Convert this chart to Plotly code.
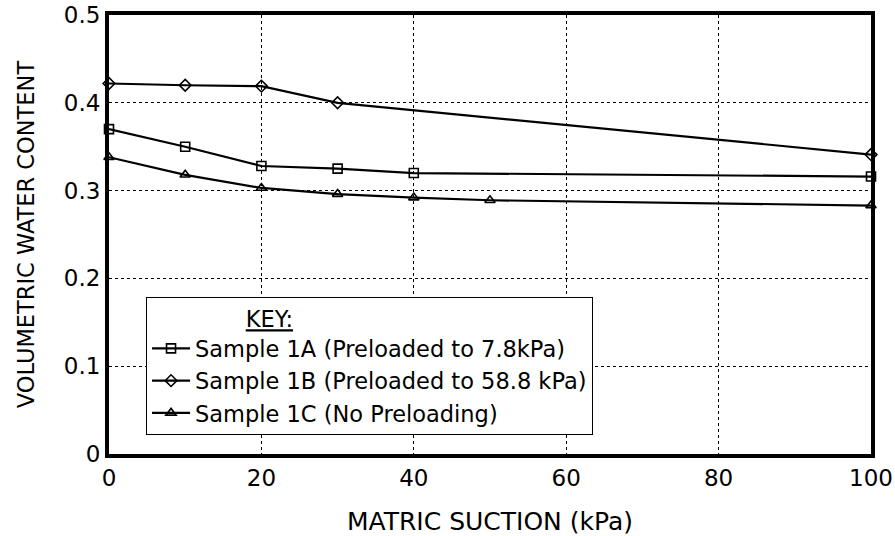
import plotly.graph_objects as go

# Data
x_1a = [0, 10, 20, 30, 40, 100]
y_1a = [0.370, 0.350, 0.328, 0.325, 0.320, 0.316]

x_1b = [0, 10, 20, 30, 100]
y_1b = [0.422, 0.420, 0.419, 0.400, 0.341]

x_1c = [0, 10, 20, 30, 40, 50, 100]
y_1c = [0.338, 0.318, 0.303, 0.296, 0.292, 0.289, 0.283]

names = ["Sample 1A (Preloaded to 7.8kPa)",
         "Sample 1B (Preloaded to 58.8 kPa)",
         "Sample 1C (No Preloading)"]

x_ticks = [0, 20, 40, 60, 80, 100]
y_ticks = [0, 0.1, 0.2, 0.3, 0.4, 0.5]
y_ticklabels = ["0", "0.1", "0.2", "0.3", "0.4", "0.5"]

FONT = "DejaVu Sans, sans-serif"

fig = go.Figure()
series = [(x_1a, y_1a, names[0], "square-open"),
          (x_1b, y_1b, names[1], "diamond-open"),
          (x_1c, y_1c, names[2], "triangle-up-open")]
for xs, ys, nm, sym in series:
    fig.add_trace(go.Scatter(
        x=xs, y=ys, name=nm, mode="lines+markers",
        line=dict(color="black", width=2.2),
        marker=dict(symbol=sym, size=9, color="black", line=dict(width=1.6, color="black")),
        cliponaxis=False,
    ))

fig.update_layout(
    width=895, height=536,
    margin=dict(l=109, r=24, t=15, b=82, autoexpand=False),
    paper_bgcolor="white", plot_bgcolor="white",
    font=dict(family=FONT, color="black", size=22),
    showlegend=True,
    legend=dict(
        x=0.0486, y=0.3576, xanchor="left", yanchor="top",
        bgcolor="white", bordercolor="black", borderwidth=1,
        font=dict(size=22.5, family=FONT, color="black"),
        title=dict(text="<u>KEY:</u>" + "\u00a0" * 28, side="top center",
                   font=dict(size=22.5, family=FONT)),
        itemwidth=38, tracegroupgap=0,
    ),
    xaxis=dict(
        range=[0, 100], tickvals=x_ticks, ticktext=[str(v) for v in x_ticks],
        showline=True, linewidth=4, linecolor="black", mirror=True,
        showgrid=True, gridcolor="black", gridwidth=1, griddash="dot",
        zeroline=False, ticks="", tickfont=dict(size=23, family=FONT),
        automargin=False,
        title=dict(text="MATRIC SUCTION (kPa)", font=dict(size=25, family=FONT), standoff=24),
    ),
    yaxis=dict(
        range=[0, 0.5], tickvals=y_ticks, ticktext=y_ticklabels,
        showline=True, linewidth=4, linecolor="black", mirror=True,
        showgrid=True, gridcolor="black", gridwidth=1, griddash="dot",
        zeroline=False, ticks="", tickfont=dict(size=23, family=FONT),
        automargin=False,
        title=dict(text="VOLUMETRIC WATER CONTENT", font=dict(size=22.5, family=FONT), standoff=24),
    ),
)

fig.write_html("out.html")
